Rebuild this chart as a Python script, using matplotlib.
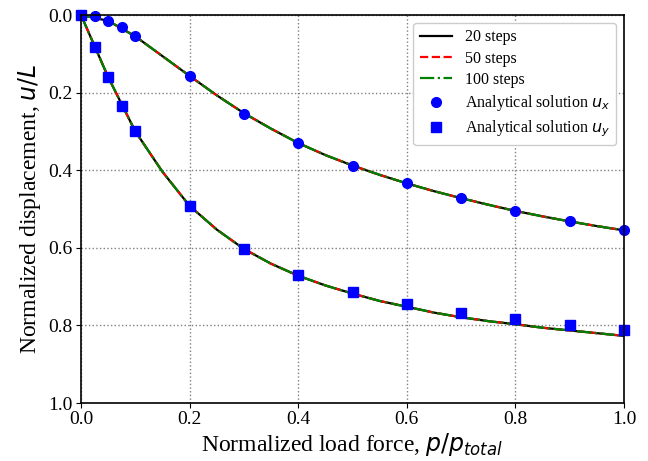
import numpy as np
import matplotlib
matplotlib.use("Agg")
import matplotlib.pyplot as plt

plt.rcParams['font.family'] = ['Liberation Serif', 'DejaVu Serif']
plt.rcParams['mathtext.fontset'] = 'dejavusans'

# Numerical solution
p_num = [0.0, 0.05, 0.1, 0.15, 0.2, 0.25, 0.3, 0.35, 0.4, 0.45, 0.5,
         0.55, 0.6, 0.65, 0.7, 0.75, 0.8, 0.85, 0.9, 0.95, 1.0]
ux_num = [0.0, 0.015, 0.055, 0.106, 0.157, 0.207, 0.253, 0.293, 0.330, 0.361, 0.388,
          0.412, 0.434, 0.454, 0.472, 0.489, 0.505, 0.519, 0.532, 0.544, 0.555]
uy_num = [0.0, 0.160, 0.300, 0.404, 0.492, 0.553, 0.603, 0.641, 0.672, 0.697, 0.718,
          0.737, 0.752, 0.767, 0.779, 0.789, 0.797, 0.806, 0.813, 0.820, 0.827]

# Analytical solution
p_an = [0.0, 0.025, 0.05, 0.075, 0.1, 0.2, 0.3, 0.4, 0.5, 0.6, 0.7, 0.8, 0.9, 1.0]
ux_an = [0.0, 0.003, 0.015, 0.032, 0.055, 0.158, 0.255, 0.331, 0.388, 0.433, 0.472, 0.504, 0.531, 0.554]
uy_an = [0.0, 0.083, 0.161, 0.235, 0.299, 0.492, 0.602, 0.670, 0.714, 0.745, 0.768, 0.784, 0.799, 0.811]

fig = plt.figure(figsize=(6.48, 4.61), dpi=100)
ax = fig.add_axes([81/648, 1 - 403/461, 543/648, 388/461])

for ys in (ux_num, uy_num):
    l1, = ax.plot(p_num, ys, color='black', lw=1.6, ls='-')
    l2, = ax.plot(p_num, ys, color='red', lw=1.6, ls='--')
    l3, = ax.plot(p_num, ys, color='green', lw=1.6, ls='-.')
m1, = ax.plot(p_an, ux_an, 'o', color='blue', ms=7, ls='none', clip_on=False)
m2, = ax.plot(p_an, uy_an, 's', color='blue', ms=7, ls='none', clip_on=False)

ax.set_xlim(0, 1)
ax.set_ylim(1, 0)
ax.set_xticks([0, 0.2, 0.4, 0.6, 0.8, 1.0])
ax.set_yticks([0, 0.2, 0.4, 0.6, 0.8, 1.0])
ax.tick_params(labelsize=14, pad=2.5)
ax.grid(True, ls=':', color='gray', lw=1)
ax.set_xlabel(r'Normalized load force, $p/p_{total}$', fontsize=17, labelpad=2)
ax.set_ylabel(r'Normalized displacement, $u/L$', fontsize=17, labelpad=4)
for s in ax.spines.values():
    s.set_linewidth(1.2)

ax.legend([l1, l2, l3, m1, m2],
          ['20 steps', '50 steps', '100 steps',
           r'Analytical solution $u_x$', r'Analytical solution $u_y$'],
          loc='upper right', fontsize=11.5, framealpha=1, labelspacing=0.33,
          borderaxespad=0.5)

fig.savefig('out.png', dpi=100)
